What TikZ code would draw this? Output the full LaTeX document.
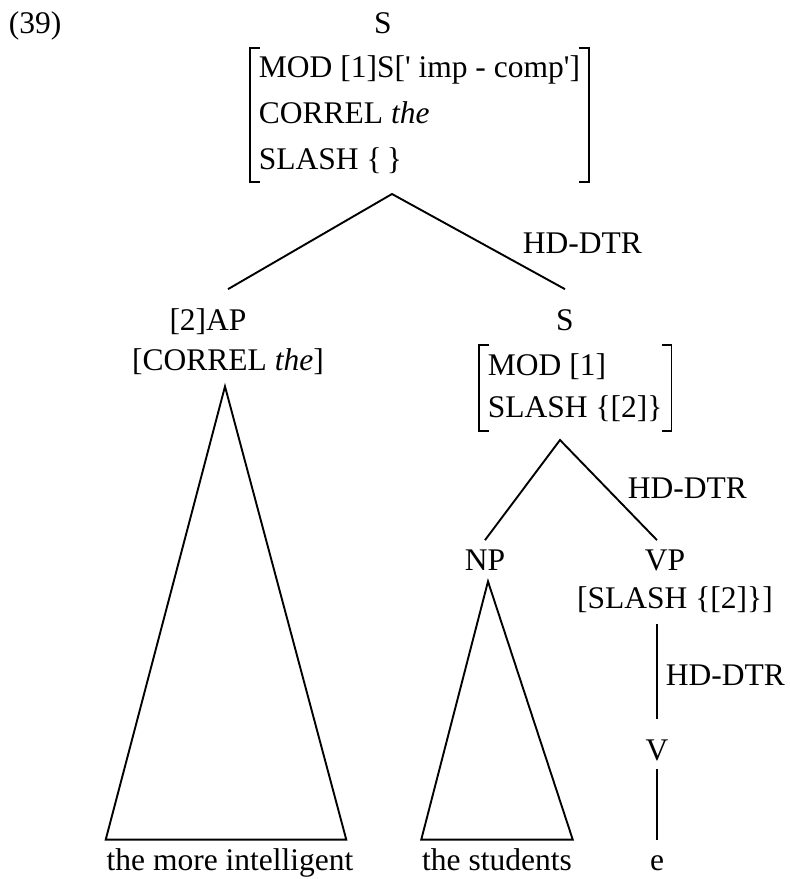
\documentclass[tikz,border=0pt]{standalone}
\usepackage{fontspec}
\setmainfont{Liberation Serif}

\begin{document}
\begin{tikzpicture}[x=1pt,y=-1pt,line width=1.9pt,
  every node/.style={font=\fontsize{31.5}{46}\selectfont,inner xsep=0pt,inner ysep=8pt,anchor=base,text height=21.4pt,text depth=7pt},
  lbl/.style={anchor=base west,inner sep=0pt},
  avm/.style={anchor=north west,align=left,inner xsep=8pt,inner ysep=7pt,text height=,text depth=}]
\useasboundingbox (0,0) rectangle (790,879);
\node[lbl] (ex) at (8,33) {(39)};
% top S
\node (s0) at (383,33) {S};
\node[avm] (avm0) at (250,48) {MOD [1]S[\textquotesingle\ imp - comp\textquotesingle]\\CORREL \textit{the}\\SLASH \{\,\}};
\coordinate (r0) at (392,194);
% daughters
\node (ap) at (208,330.5) {[2]AP};
\node (apf) at (228,370.5) {[CORREL \textit{the}]};
\node (s1) at (565,330.5) {S};
\node[avm,font=\fontsize{31.5}{42}\selectfont,inner ysep=8pt] (avm1) at (479,345) {MOD [1]\\SLASH \{[2]\}};
\coordinate (r1) at (560,440);
\node (np) at (485,570.5) {NP};
\node (vp) at (665,570.5) {VP};
\node (vpf) at (675,608.5) {[SLASH \{[2]\}]};
\node (v) at (657,760.5) {V};
% leaves
\node (lf1) at (230,870) {the more intelligent};
\node (lf2) at (497,870) {the students};
\node (lf3) at (657,870) {e};
% head labels
\node[lbl] (hd0) at (522,253.5) {HD-DTR};
\node[lbl] (hd1) at (627,498.5) {HD-DTR};
\node[lbl] (hd2) at (665,685.5) {HD-DTR};
% brackets
\foreach \n in {avm0,avm1} {
  \draw ([xshift=10pt]\n.north west) -- (\n.north west) -- (\n.south west) -- ([xshift=10pt]\n.south west);
  \draw ([xshift=-10pt]\n.north east) -- (\n.north east) -- (\n.south east) -- ([xshift=-10pt]\n.south east);
}
% branches
\draw ([yshift=11pt]ap.north -| apf.north) -- (r0) -- ([yshift=11pt]s1.north);
\draw (np.north) -- (r1) -- ([xshift=-8pt]vp.north);
\draw (vpf.south -| v) -- ([yshift=11pt]v.north);
\draw ([yshift=7pt]v.south) -- (lf3.north);
% triangles
\draw ([xshift=-3pt]apf.south) -- (lf1.north west) -- ([xshift=-8pt]lf1.north east) -- cycle;
\draw ([xshift=3pt,yshift=5pt]np.south) -- (lf2.north west) -- (lf2.north east) -- cycle;
\end{tikzpicture}
\end{document}
